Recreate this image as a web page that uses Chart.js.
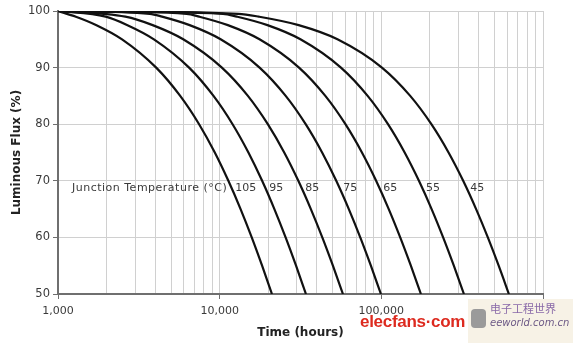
<!DOCTYPE html>
<html>
<head>
<meta charset="utf-8">
<script src="https://cdn.jsdelivr.net/npm/chart.js@4/dist/chart.umd.min.js"></script>
<style>
  html, body { margin: 0; padding: 0; background: #ffffff; }
  #wrap { position: relative; width: 573px; height: 343px; overflow: hidden; }
  #c { position: absolute; left: 0; top: 0; }
  .wm-red { position: absolute; left: 360px; top: 312px; font: bold 17px "Liberation Sans", Arial, sans-serif; color: #dd2a1f; letter-spacing: -0.3px; }
  .wm-box { position: absolute; left: 468px; top: 299px; width: 105px; height: 44px; background: rgba(246, 240, 226, 0.85); }
  .wm-logo { position: absolute; left: 471px; top: 309px; width: 15px; height: 19px; border-radius: 4px; background: #9a9a9a; }
  .wm-cn { position: absolute; left: 490px; top: 300px; font: 11px "Noto Sans CJK SC", sans-serif; color: #8a6aa8; }
  .wm-en { position: absolute; left: 490px; top: 317px; font: italic 10px "DejaVu Sans", sans-serif; color: #6d5a86; }
</style>
</head>
<body>
<div id="wrap">
  <canvas id="c" width="573" height="343"></canvas>
  <div class="wm-red">elecfans·com</div>
  <div class="wm-box"></div>
  <div class="wm-logo"></div>
  <div class="wm-cn">电子工程世界</div>
  <div class="wm-en">eeworld.com.cn</div>
</div>
<script>
// ---- Data ----
const temperatures = ['105', '95', '85', '75', '65', '55', '45'];

const hours105 = [1000, 1290, 1730, 2490, 4050, 5700, 7460, 9330, 11320, 13470, 15790, 18300, 21060];
const flux105  = [100, 99, 97.5, 95, 90, 85, 80, 75, 70, 65, 60, 55, 50];

const hours95 = [1000, 1970, 2690, 3920, 6470, 9160, 12020, 15060, 18310, 21800, 25580, 29680, 34170];
const flux95  = [100, 99, 97.5, 95, 90, 85, 80, 75, 70, 65, 60, 55, 50];

const hours85 = [1000, 2610, 3850, 5950, 10320, 14950, 19850, 25080, 30660, 36650, 43130, 50170, 57880];
const flux85  = [100, 99, 97.5, 95, 90, 85, 80, 75, 70, 65, 60, 55, 50];

const hours75 = [1000, 3700, 4400, 6520, 10140, 17660, 25610, 34040, 43020, 52620, 62930, 74070, 86170, 99430];
const flux75  = [100, 99.5, 99, 97.5, 95, 90, 85, 80, 75, 70, 65, 60, 55, 50];

const hours65 = [1000, 6240, 7480, 11240, 17640, 30960, 45040, 59970, 75870, 92860, 111120, 130840, 152270, 175750];
const flux65  = [100, 99.5, 99, 97.5, 95, 90, 85, 80, 75, 70, 65, 60, 55, 50];

const hours55 = [1000, 10490, 12780, 19750, 31590, 56250, 82310, 109950, 139380, 170840, 204640, 241140, 280810, 324280];
const flux55  = [100, 99.5, 99, 97.5, 95, 90, 85, 80, 75, 70, 65, 60, 55, 50];

const hours45 = [1000, 13040, 17450, 30810, 53540, 100860, 150890, 203950, 260430, 320820, 385670, 455730, 531890, 615300];
const flux45  = [100, 99.5, 99, 97.5, 95, 90, 85, 80, 75, 70, 65, 60, 55, 50];

// Axis ticks
const gridHours = [1000,2000,3000,4000,5000,6000,7000,8000,9000,
                   10000,20000,30000,40000,50000,60000,70000,80000,90000,
                   100000,200000,300000,400000,500000,600000,700000,800000,900000,1000000];
const majorHours = [1000, 10000, 100000, 1000000];
const labeledHours = [1000, 10000, 100000];
const fluxTicks = [50, 60, 70, 80, 90, 100];

// Annotation text
const noteText = 'Junction Temperature (°C)';
const noteHours = 1220;
const labelFlux = 70;

// ---- Chart ----
const seriesHours = [hours105, hours95, hours85, hours75, hours65, hours55, hours45];
const seriesFlux  = [flux105, flux95, flux85, flux75, flux65, flux55, flux45];

const FONT = '"DejaVu Sans", Verdana, sans-serif';

const datasets = temperatures.map((t, k) => ({
  label: t,
  data: seriesHours[k].map((h, i) => ({ x: h, y: seriesFlux[k][i] })),
  showLine: true,
  borderColor: '#111111',
  borderWidth: 2.2,
  pointRadius: 0,
  fill: false,
  cubicInterpolationMode: 'monotone'
}));

const labelPlugin = {
  id: 'curveLabels',
  afterDatasetsDraw(chart) {
    const { ctx, scales: { x, y } } = chart;
    ctx.save();
    ctx.font = '11px ' + FONT;
    ctx.fillStyle = '#3a3a3a';
    ctx.textBaseline = 'middle';
    ctx.textAlign = 'left';
    const yPix = y.getPixelForValue(labelFlux) + 7;
    ctx.letterSpacing = '0.5px';
    ctx.fillText(noteText, x.getPixelForValue(noteHours), yPix);
    ctx.letterSpacing = '0px';
    temperatures.forEach((t, k) => {
      const idx = seriesFlux[k].indexOf(labelFlux);
      const xPix = x.getPixelForValue(seriesHours[k][idx]) + 7;
      ctx.fillText(t, xPix, yPix);
    });
    ctx.restore();
  }
};

new Chart(document.getElementById('c'), {
  type: 'scatter',
  data: { datasets },
  plugins: [labelPlugin],
  options: {
    responsive: false,
    animation: false,
    devicePixelRatio: 1,
    layout: { padding: { top: 11, right: 30, left: 0, bottom: 0 } },
    plugins: { legend: { display: false }, tooltip: { enabled: false } },
    scales: {
      x: {
        type: 'logarithmic',
        min: 1000,
        max: 1000000,
        afterBuildTicks: (s) => { s.ticks = gridHours.map(v => ({ value: v })); },
        afterFit: (s) => { s.height = 49; },
        ticks: {
          autoSkip: false,
          maxRotation: 0,
          minRotation: 0,
          padding: 6,
          color: '#3a3a3a',
          font: { family: FONT, size: 11 },
          callback: (v) => labeledHours.includes(v) ? v.toLocaleString('en-US') : ''
        },
        grid: {
          color: '#d0d0d0',
          lineWidth: 1,
          tickLength: 5,
          tickColor: (c) => (c.tick && majorHours.includes(c.tick.value)) ? '#6f6f6f' : 'rgba(0,0,0,0)'
        },
        border: { display: true, color: '#6f6f6f', width: 2 },
        title: {
          display: true,
          text: 'Time (hours)',
          color: '#222222',
          font: { family: FONT, size: 12, weight: 'bold' },
          padding: { top: 0, bottom: 3 }
        }
      },
      y: {
        min: 50,
        max: 100,
        afterBuildTicks: (s) => { s.ticks = fluxTicks.map(v => ({ value: v })); },
        afterFit: (s) => { s.width = 58; },
        ticks: {
          padding: 3,
          color: '#3a3a3a',
          font: { family: FONT, size: 11.5 }
        },
        grid: { color: '#d0d0d0', lineWidth: 1, tickLength: 5, tickColor: '#6f6f6f' },
        border: { display: true, color: '#6f6f6f', width: 2 },
        title: {
          display: true,
          text: 'Luminous Flux (%)',
          color: '#222222',
          font: { family: FONT, size: 12, weight: 'bold' },
          padding: { top: 10, bottom: 0 }
        }
      }
    }
  }
});
</script>
</body>
</html>
